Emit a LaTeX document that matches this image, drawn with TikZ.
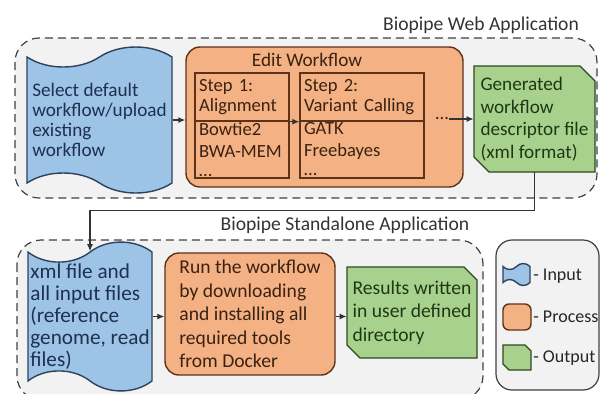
\documentclass[tikz,border=0pt]{standalone}
\usepackage{fontspec}
\setmainfont{Carlito}
\usepackage{tikz}
\usetikzlibrary{arrows.meta,shapes.symbols}
\definecolor{appfill}{HTML}{F2F2F2}
\definecolor{appline}{HTML}{404040}
\definecolor{inputfill}{HTML}{9DC3E6}
\definecolor{inputdraw}{HTML}{2E4260}
\definecolor{inputtext}{HTML}{1F3050}
\definecolor{procfill}{HTML}{F4B183}
\definecolor{procdraw}{HTML}{5E3219}
\definecolor{proctext}{HTML}{3A2212}
\definecolor{outfill}{HTML}{A9D18E}
\definecolor{outdraw}{HTML}{2C4A1E}
\definecolor{outtext}{HTML}{1F3814}
\def\boxfont#1#2{\fontsize{#1}{#2}\selectfont}
% chamfered output shape: (left,top)(right,bottom){cut}
\def\outshape(#1,#2)(#3,#4)#5{\draw[outdraw, fill=outfill, line width=0.7pt] (#1,#2) -- ({#3-#5},#2) -- (#3,{#2+#5}) -- (#3,#4) -- ({#1+#5},#4) -- (#1,{#4-#5}) -- cycle;}
\tikzset{
  appbox/.style={draw=appline, fill=appfill, line width=0.6pt, dash pattern=on 4pt off 2.5pt, rounded corners=12pt},
  inputbox/.style={tape, draw=inputdraw, fill=inputfill, text=inputtext, line width=0.7pt, tape bend top=in and out, tape bend bottom=out and in, tape bend height=10pt, align=left, inner sep=1pt},
  procbox/.style={rectangle, draw=procdraw, fill=procfill, text=proctext, line width=0.7pt, rounded corners=7pt, align=left, inner sep=1pt},
  outbox/.style={rectangle, text=outtext, align=left, inner sep=1pt},
  stepbox/.style={rectangle, draw=procdraw, text=proctext, line width=0.7pt, align=left, inner xsep=2pt, inner ysep=0.5pt},
  flow/.style={draw=black!80, line width=0.6pt, -{Latex[length=3.5pt,width=3pt]}}
}
\begin{document}
\begin{tikzpicture}[x=0.5pt, y=-0.5pt]
			%%%%% START %%%%%
			\useasboundingbox (0, 0) rectangle (600, 393);
			\clip (0, 0) rectangle (600, 393);
			
			% web application
			\draw[appbox] (15, 38) rectangle (597, 198);
			\node[font=\boxfont{9.8}{11.5}, text=black!80] (webtitle) at (481, 25) {Biopipe Web Application};
			
			\node[inputbox, minimum width=72.5pt, minimum height=73pt, font=\boxfont{9.6}{10}] (select) at (99.5, 120)
			  {Select default\\workflow/upload\\existing\\workflow};
			
			\node[procbox, minimum width=138.5pt, minimum height=70pt] (edit) at (324.5, 117) {};
			\node[font=\boxfont{9.6}{11.5}, text=proctext] (edittitle) at (307, 60) {Edit Workflow};
			
			\node[stepbox, text width=43pt, minimum height=24pt, font=\boxfont{9.3}{10}] (onehead) at (242, 97) {Step 1:\\Alignment};
			\node[stepbox, text width=43pt, minimum height=28.5pt, font=\boxfont{9.3}{11}] (onetools) at (242, 149.5) {Bowtie2\\BWA-MEM\\[-1.5pt]\ldots};
			\node[stepbox, text width=58pt, minimum height=24pt, font=\boxfont{9.3}{10}] (twohead) at (362, 97) {Step 2:\\Variant Calling};
			\node[stepbox, text width=58pt, minimum height=28.5pt, font=\boxfont{9.3}{11}] (twotools) at (362, 149.5) {GATK\\Freebayes\\[-1.5pt]\ldots};
			\node[text=proctext, inner sep=0pt, font=\boxfont{9.3}{11.5}] (more) at (442, 119) {\ldots};
			
			\outshape(474,66)(595,172){15}
			\node[outbox, minimum width=60.5pt, minimum height=53pt, font=\boxfont{9.6}{11.3}] (descriptor) at (534.5, 119)
			  {Generated\\workflow\\descriptor file\\(xml format)};
			
			\draw[flow] (select.east) -- (select.east -| edit.west);
			\draw[flow] (onehead.south east) -- (twohead.south west);
			\draw[flow] (more.east) -- (more.east -| descriptor.west);
			
			% standalone application
			\draw[appbox] (17, 240) rectangle (483, 400);
			\node[font=\boxfont{9.8}{11.5}, text=black!80] (standtitle) at (345, 225) {Biopipe Standalone Application};
			
			\node[inputbox, minimum width=62pt, minimum height=73.5pt, font=\boxfont{10.6}{10.9}] (xmlin) at (90, 316.5)
			  {xml file and\\all input files\\(reference\\genome, read\\files)};
			\node[procbox, minimum width=85pt, minimum height=61pt, font=\boxfont{9.8}{11.7}] (run) at (250, 314)
			  {Run the workflow\\by downloading\\and installing all\\required tools\\from Docker};
			\outshape(347,267)(477,358){13}
			\node[outbox, minimum width=65pt, minimum height=45.5pt, font=\boxfont{9.8}{11.7}] (results) at (412, 312.5)
			  {Results written\\in user defined\\directory};
			
			\draw[flow] (descriptor.south) -- ++(0, 38) -| (xmlin.north);
			\draw[flow] (xmlin.east) -- (xmlin.east -| run.west);
			\draw[flow] (run.east |- xmlin.east) -- (results.west |- xmlin.east);
			
			% legend
			\draw[draw=appline, fill=appfill, line width=0.6pt, rounded corners=8pt] (496, 240) rectangle (599, 390);
			\node[inputbox, minimum width=13.5pt, minimum height=11pt, tape bend height=3pt, inner sep=0pt] (keyinput) at (516.5, 274.5) {};
			\node[procbox, minimum width=14pt, minimum height=13pt, rounded corners=3pt, inner sep=0pt] (keyprocess) at (517, 317) {};
			\outshape(503,345)(531,370){6}
			\node[outbox, minimum width=14pt, minimum height=12.5pt, inner sep=0pt] (keyoutput) at (517, 357.5) {};
			\node[anchor=west, inner sep=0pt, font=\boxfont{9}{11}, text=black!85] (keyinputtext) at (533, 276) {- Input};
			\node[anchor=west, inner sep=0pt, font=\boxfont{9}{11}, text=black!85] (keyprocesstext) at (533, 317) {- Process};
			\node[anchor=west, inner sep=0pt, font=\boxfont{9}{11}, text=black!85] (keyoutputtext) at (533, 358) {- Output};
			%%%%% END %%%%%
\end{tikzpicture}
\end{document}
